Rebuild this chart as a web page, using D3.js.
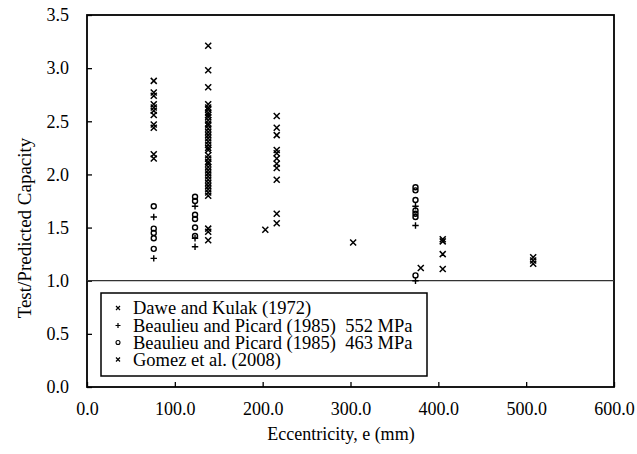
<!DOCTYPE html>
<html><head><meta charset="utf-8">
<script src="https://cdn.jsdelivr.net/npm/d3@7"></script>
<style>
html,body{margin:0;padding:0;background:#fff;}
</style></head>
<body><svg id="chart" width="637" height="454"></svg>
<script>
// ---- data ----
const xTicks = [0, 100, 200, 300, 400, 500, 600];
const yTicks = [0, 0.5, 1.0, 1.5, 2.0, 2.5, 3.0, 3.5];
const legendLabels = ["Dawe and Kulak (1972)", "Beaulieu and Picard (1985)  552 MPa", "Beaulieu and Picard (1985)  463 MPa", "Gomez et al. (2008)"];
// [eccentricity (mm), test/predicted]
const daweKulak = [
  [76,2.88],[76,2.77],[76,2.74],[76,2.66],[76,2.63],[76,2.60],[76,2.56],[76,2.47],[76,2.44],[76,2.19],[76,2.15],
  [138,3.21],[138,2.98],[138,2.82],[138,2.66],[138,2.63],[138,2.61],[138,2.58],[138,2.56],[138,2.54],[138,2.51],
  [138,2.48],[138,2.46],[138,2.43],[138,2.40],[138,2.37],[138,2.34],[138,2.31],[138,2.28],[138,2.25],[138,2.23],
  [138,2.18],[138,2.15],[138,2.12],[138,2.10],[138,2.07],[138,2.04],[138,2.01],[138,1.98],[138,1.95],[138,1.92],
  [138,1.89],[138,1.86],[138,1.83],[138,1.80],[138,1.49],[138,1.46],[138,1.38],
  [203,1.48],
  [216,2.55],[216,2.44],[216,2.37],[216,2.23],[216,2.20],[216,2.15],[216,2.10],[216,2.06],[216,1.95],[216,1.63],[216,1.54]
];
const beaulieu552 = [[76,1.60],[76,1.21],[123,1.70],[123,1.40],[123,1.32],[374,1.70],[374,1.52],[374,1.00]];
const beaulieu463 = [[76,1.70],[76,1.49],[76,1.45],[76,1.40],[76,1.30],
  [123,1.79],[123,1.75],[123,1.62],[123,1.58],[123,1.50],[123,1.42],
  [374,1.88],[374,1.85],[374,1.76],[374,1.66],[374,1.63],[374,1.60],[374,1.05]];
const gomez = [[303,1.36],[380,1.12],[405,1.39],[405,1.37],[405,1.25],[405,1.11],[508,1.22],[508,1.19],[508,1.16]];

// ---- layout ----
const FONT = '"Liberation Serif", "DejaVu Serif", "Noto Serif", "Times New Roman", Times, serif';
const svg = d3.select("#chart");
const L = 87, R = 614, T = 15, B = 387;
const x = d3.scaleLinear().domain([0, 600]).range([L, R]);
const y = d3.scaleLinear().domain([0, 3.5]).range([B, T]);

// axes (ticks inward)
const xAxis = d3.axisBottom(x).tickValues(xTicks).tickSize(-5).tickPadding(15).tickFormat(d3.format(".1f"));
const yAxis = d3.axisLeft(y).tickValues(yTicks).tickSize(-5).tickPadding(18).tickFormat(d3.format(".1f"));
const gx = svg.append("g").attr("transform", `translate(0,${B})`).call(xAxis);
const gy = svg.append("g").attr("transform", `translate(${L},0)`).call(yAxis);
[gx, gy].forEach(g => {
  g.attr("font-family", null).attr("font-size", null);
  g.select(".domain").remove();
  g.selectAll(".tick line").attr("stroke", "#000").attr("stroke-width", 1.3);
  g.selectAll(".tick text").attr("font-family", FONT).style("font-family", FONT)
    .style("font-size", "18px").attr("fill", "#000");
});

// frame
svg.append("rect").attr("x", L).attr("y", T).attr("width", R - L).attr("height", B - T)
  .attr("fill", "none").attr("stroke", "#000").attr("stroke-width", 1.8);
// reference line at 1.0
svg.append("line").attr("x1", L).attr("x2", R).attr("y1", y(1)).attr("y2", y(1))
  .attr("stroke", "#333").attr("stroke-width", 1.3);

// axis titles
svg.append("text").attr("x", 341).attr("y", 434).attr("dy", "0.35em").attr("text-anchor", "middle")
  .style("font-family", FONT).style("font-size", "18px").text("Eccentricity, e (mm)");
svg.append("text").attr("transform", `translate(24,${228}) rotate(-90)`).attr("dy", "0.35em").attr("text-anchor", "middle")
  .style("font-family", FONT).style("font-size", "19px").text("Test/Predicted Capacity");

// markers
function drawX(g, data, s) {
  g.selectAll(null).data(data).enter().append("path")
    .attr("d", d => { const cx = x(d[0]), cy = y(d[1]);
      return `M${cx-s},${cy-s}L${cx+s},${cy+s}M${cx-s},${cy+s}L${cx+s},${cy-s}`; })
    .attr("stroke", "#000").attr("stroke-width", 1.5).attr("fill", "none");
}
function drawPlus(g, data, s) {
  g.selectAll(null).data(data).enter().append("path")
    .attr("d", d => { const cx = x(d[0]), cy = y(d[1]);
      return `M${cx-s},${cy}L${cx+s},${cy}M${cx},${cy-s}L${cx},${cy+s}`; })
    .attr("stroke", "#000").attr("stroke-width", 1.4).attr("fill", "none");
}
function drawO(g, data, r) {
  g.selectAll(null).data(data).enter().append("circle")
    .attr("cx", d => x(d[0])).attr("cy", d => y(d[1])).attr("r", r)
    .attr("stroke", "#000").attr("stroke-width", 1.4).attr("fill", "none");
}
const pts = svg.append("g");
drawX(pts, daweKulak, 3);
drawPlus(pts, beaulieu552, 3.2);
drawO(pts, beaulieu463, 2.5);
drawX(pts, gomez, 3);

// legend
const lg = svg.append("g");
lg.append("rect").attr("x", 101).attr("y", 293).attr("width", 326).attr("height", 83)
  .attr("fill", "#fff").attr("stroke", "#000").attr("stroke-width", 1.5);
const rowY = [308, 325.5, 342.5, 359.5];
legendLabels.forEach((t, i) => {
  lg.append("text").attr("x", 133).attr("y", rowY[i]).attr("dy", "0.35em")
    .style("font-family", FONT).style("font-size", "18.5px").style("white-space", "pre")
    .attr("xml:space", "preserve").text(t);
});
const lx = 118;
const lgMarks = lg.append("g");
[[0, "x"], [1, "p"], [2, "o"], [3, "x"]].forEach(([i, k]) => {
  const cy = rowY[i];
  if (k === "x") lgMarks.append("path").attr("d", `M${lx-2},${cy-2}L${lx+2},${cy+2}M${lx-2},${cy+2}L${lx+2},${cy-2}`)
    .attr("stroke", "#000").attr("stroke-width", 1.2);
  if (k === "p") lgMarks.append("path").attr("d", `M${lx-2.5},${cy}L${lx+2.5},${cy}M${lx},${cy-2.5}L${lx},${cy+2.5}`)
    .attr("stroke", "#000").attr("stroke-width", 1.2);
  if (k === "o") lgMarks.append("circle").attr("cx", lx).attr("cy", cy).attr("r", 2)
    .attr("stroke", "#000").attr("stroke-width", 1.1).attr("fill", "none");
});
</script></body></html>
